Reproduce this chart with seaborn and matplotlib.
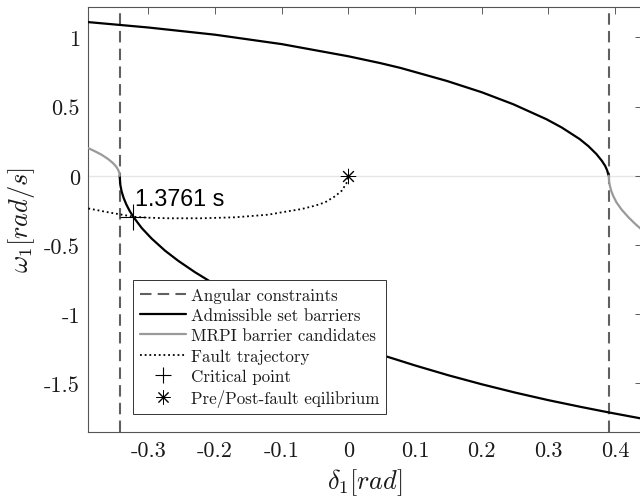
import numpy as np
import matplotlib
matplotlib.use("Agg")
import matplotlib.pyplot as plt
import seaborn as sns

# angular constraints (rad)
delta_min = -0.343
delta_max = 0.3905

# admissible set barrier, upper branch
upper_delta = [-0.39, -0.3, -0.2, -0.1, 0.0, 0.0475, 0.078, 0.1475, 0.2, 0.2474, 0.297,
               0.32, 0.347, 0.36, 0.372, 0.38, 0.385, 0.388, 0.3895, 0.3905]
upper_omega = [1.111, 1.072, 1.02, 0.952, 0.864, 0.815, 0.78, 0.686, 0.604, 0.517, 0.409,
               0.349, 0.265, 0.214, 0.157, 0.109, 0.072, 0.04, 0.014, 0.0]

# admissible set barrier, lower branch
lower_delta = [-0.343, -0.342, -0.34, -0.337, -0.333, -0.328, -0.322, -0.31, -0.295,
               -0.275, -0.255, -0.23, -0.205, -0.15, -0.1, -0.05, 0.0, 0.05, 0.1, 0.15,
               0.2, 0.25, 0.3, 0.35, 0.39, 0.44]
lower_omega = [0.0, -0.066, -0.114, -0.161, -0.207, -0.254, -0.30, -0.377, -0.454,
               -0.541, -0.615, -0.697, -0.771, -0.911, -1.022, -1.122, -1.212, -1.295,
               -1.371, -1.442, -1.507, -1.567, -1.622, -1.672, -1.71, -1.755]

# MRPI barrier candidates
mrpi_left_delta = [-0.39, -0.38, -0.37, -0.36, -0.353, -0.348, -0.345, -0.3435, -0.343]
mrpi_left_omega = [0.2, 0.177, 0.152, 0.12, 0.092, 0.065, 0.041, 0.02, 0.0]
mrpi_right_delta = [0.3905, 0.391, 0.392, 0.394, 0.397, 0.402, 0.41, 0.42, 0.43, 0.44]
mrpi_right_omega = [0.0, -0.04, -0.069, -0.106, -0.144, -0.192, -0.246, -0.30, -0.347, -0.39]

# fault-on trajectory
fault_delta = [-0.39, -0.36, -0.322, -0.3, -0.27, -0.22, -0.17, -0.12, -0.1, -0.07,
               -0.05, -0.035, -0.02, -0.01, -0.003, 0.0]
fault_omega = [-0.236, -0.264, -0.296, -0.303, -0.307, -0.307, -0.30, -0.281, -0.264,
               -0.24, -0.216, -0.192, -0.148, -0.108, -0.055, 0.0]

crit_delta, crit_omega = -0.3225, -0.298
crit_label = "1.3761 s"
eq_delta, eq_omega = 0.0, 0.0

x_ticks = [-0.3, -0.2, -0.1, 0, 0.1, 0.2, 0.3, 0.4]
x_ticklabels = ["-0.3", "-0.2", "-0.1", "0", "0.1", "0.2", "0.3", "0.4"]
y_ticks = [-1.5, -1, -0.5, 0, 0.5, 1]
y_ticklabels = ["-1.5", "-1", "-0.5", "0", "0.5", "1"]

sns.set_style("white")
plt.rcParams["font.family"] = ["cmr10", "DejaVu Serif"]
plt.rcParams["mathtext.fontset"] = "cm"
plt.rcParams["axes.unicode_minus"] = False
plt.rcParams["text.color"] = "#1a1a1a"
plt.rcParams["axes.labelcolor"] = "#1a1a1a"

fig = plt.figure(figsize=(6.4, 5.02), dpi=100)
ax = fig.add_axes([0.138, 0.138, 0.8648, 0.846])

black = "#000000"
grey_dash = "#606060"
grey_mrpi = "#9a9a9a"

ax.axhline(0, color="#e6e6e6", lw=1.0, zorder=0)

dash_l = ax.axvline(delta_min, color=grey_dash, lw=1.5, dashes=(5.5, 3), zorder=2)
ax.axvline(delta_max, color=grey_dash, lw=1.5, dashes=(5.5, 3), zorder=2)

sns.lineplot(x=upper_delta, y=upper_omega, sort=False, estimator=None, color=black,
             lw=1.6, ax=ax, zorder=3)
sns.lineplot(x=lower_delta, y=lower_omega, sort=False, estimator=None, color=black,
             lw=1.6, ax=ax, zorder=3)
sns.lineplot(x=mrpi_left_delta, y=mrpi_left_omega, sort=False, estimator=None,
             color=grey_mrpi, lw=1.6, ax=ax, zorder=3)
sns.lineplot(x=mrpi_right_delta, y=mrpi_right_omega, sort=False, estimator=None,
             color=grey_mrpi, lw=1.6, ax=ax, zorder=3)
sns.lineplot(x=fault_delta, y=fault_omega, sort=False, estimator=None, color=black,
             lw=1.3, linestyle=(0, (1, 1.6)), ax=ax, zorder=3)

lines = ax.get_lines()
barrier_l = lines[3]
mrpi_l = lines[5]
fault_l = lines[7]

crit_l, = ax.plot([crit_delta], [crit_omega], ls="none", marker="+", ms=19,
                  mew=0.8, color=black, zorder=4)
eq_l, = ax.plot([eq_delta], [eq_omega], ls="none", marker=(8, 2, 0), ms=11,
                mew=0.7, color=black, zorder=4)

ax.annotate(crit_label, (crit_delta, crit_omega), xytext=(1.5, 9),
            textcoords="offset points", ha="left", va="baseline",
            family="Liberation Sans", fontsize=16.8, color="black", zorder=5)

ax.set_xlim(-0.39, 0.44)
ax.set_ylim(-1.85, 1.22)
ax.set_xticks(x_ticks)
ax.set_xticklabels(x_ticklabels)
ax.set_yticks(y_ticks)
ax.set_yticklabels(y_ticklabels)
ax.tick_params(direction="in", length=5, width=0.6, color="#444444", labelsize=16,
               labelcolor="#1a1a1a", top=True, right=True, pad=6)

for sp in ax.spines.values():
    sp.set_color("#555555")
    sp.set_linewidth(0.8)

ax.set_xlabel(r"$\delta_1[rad]$", fontsize=19, labelpad=5)
ax.set_ylabel(r"$\omega_1[rad/s]$", fontsize=19, labelpad=5)

leg = ax.legend([dash_l, barrier_l, mrpi_l, fault_l, crit_l, eq_l],
                ["Angular constraints", "Admissible set barriers",
                 "MRPI barrier candidates", "Fault trajectory", "Critical point",
                 "Pre/Post-fault eqilibrium"],
                loc="lower left", bbox_to_anchor=(0.0813, 0.0417), borderaxespad=0,
                fontsize=12.2, frameon=True, fancybox=False, framealpha=1,
                edgecolor="#333333", handlelength=2.7, handletextpad=0.3,
                labelspacing=0.3, borderpad=0.4)
leg.get_frame().set_linewidth(0.7)
leg.legend_handles[4].set_markersize(11)
leg.legend_handles[5].set_markersize(10)

fig.savefig("out.png", dpi=100)
